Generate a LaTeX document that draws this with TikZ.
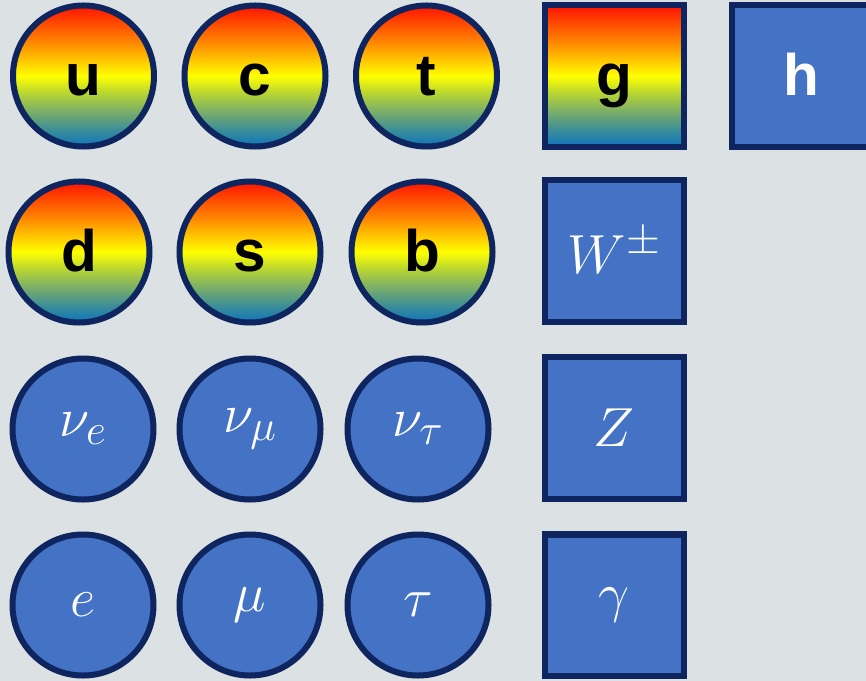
\RequirePackage{fix-cm}
\documentclass[tikz,border=0pt]{standalone}
\usepackage{fontspec}
\setmainfont{Liberation Sans}
\usetikzlibrary{shadows}
\DeclareMathSizes{47}{47}{37}{28}

\definecolor{bgcol}{HTML}{DCE2E3}
\definecolor{rimcol}{HTML}{0E2560}
\definecolor{bluecol}{HTML}{4472C4}
\definecolor{qred}{HTML}{FF1200}
\definecolor{qorange}{HTML}{FF8200}
\definecolor{qyellow}{HTML}{FFFF00}
\definecolor{qyg}{HTML}{B8D532}
\definecolor{qgreen}{HTML}{7BAE68}
\definecolor{qteal}{HTML}{3B8E98}
\definecolor{qblue}{HTML}{0E74BC}

% colour shading, bottom to top
\pgfdeclareverticalshading{colourgrad}{100bp}{
  color(0bp)=(qblue); color(25bp)=(qblue); color(31bp)=(qteal);
  color(37.5bp)=(qgreen); color(44bp)=(qyg); color(50bp)=(qyellow);
  color(62.5bp)=(qorange); color(75bp)=(qred); color(100bp)=(qred)}

\tikzset{
  particle/.style={draw=rimcol, line width=0.18cm,
    drop shadow={opacity=0.15, shadow xshift=0pt, shadow yshift=-0.1cm}},
  fermion/.style={particle, circle, minimum size=4.23cm, inner sep=0pt},
  boson/.style={particle, rectangle, minimum width=4.17cm, minimum height=4.23cm, inner sep=0pt},
  coloured/.style={shading=colourgrad, text=black},
  plain/.style={fill=bluecol, text=white},
  quarklbl/.style={font=\fontsize{50}{50}\selectfont\bfseries, text height=33pt, text depth=0pt},
  mathlbl/.style={font=\fontsize{47}{50}\selectfont}
}

\begin{document}
\begin{tikzpicture}[x=0.03cm, y=-0.03cm]
  \fill[bgcol] (0,0) rectangle (866,681);
  \clip (0,0) rectangle (866,681);

  % Up-type quarks
  \node[fermion, coloured, quarklbl] (u) at (83.5,76) {u};
  \node[fermion, coloured, quarklbl] (c) at (255,76) {c};
  \node[fermion, coloured, quarklbl] (t) at (426.5,76) {t};

  % Down-type quarks
  \node[fermion, coloured, quarklbl] (d) at (79,252) {d};
  \node[fermion, coloured, quarklbl] (s) at (250,252) {s};
  \node[fermion, coloured, quarklbl] (b) at (422,252) {b};

  % Neutrinos
  \node[fermion, plain, mathlbl] (nue) at (83,429) {$\nu_e$};
  \node[fermion, plain, mathlbl] (numu) at (250,429) {$\nu_\mu$};
  \node[fermion, plain, mathlbl] (nutau) at (418,429) {$\nu_\tau$};

  % Charged leptons
  \node[fermion, plain, mathlbl] (e) at (83,605) {$e$};
  \node[fermion, plain, mathlbl] (mu) at (250,605) {$\mu$};
  \node[fermion, plain, mathlbl] (tau) at (418,605) {$\tau$};

  % Gauge bosons
  \node[boson, coloured, quarklbl] (g) at (614,76) {g};
  \node[boson, plain, mathlbl] (W) at (614,251) {$W^{\pm}$};
  \node[boson, plain, mathlbl] (Z) at (614,428) {$Z$};
  \node[boson, plain, mathlbl] (gamma) at (614,605) {$\gamma$};

  % Higgs
  \node[boson, plain, quarklbl, text=white] (h) at (801,76) {h};
\end{tikzpicture}
\end{document}
